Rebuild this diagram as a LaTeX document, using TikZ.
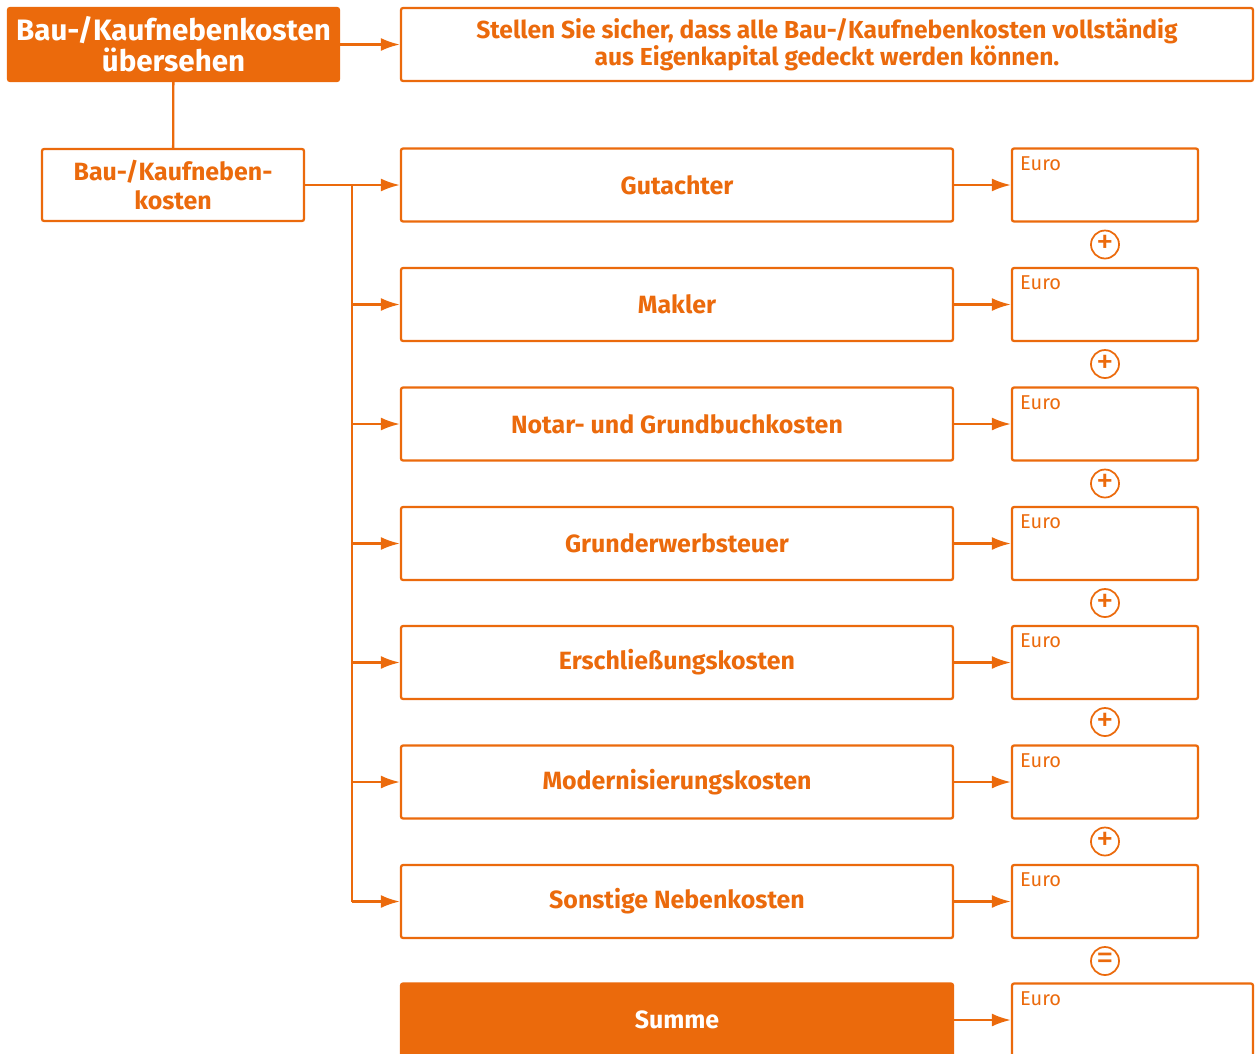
\documentclass[tikz,border=0pt]{standalone}
\usepackage{fontspec}
\setmainfont{Fira Sans}
\usepackage{tikz}
\usetikzlibrary{positioning}
\usetikzlibrary{arrows.meta}

\definecolor{kostorange}{RGB}{235,106,12}

\tikzset{
  posten/.style={rectangle, draw=kostorange, line width=1.3pt, rounded corners=1.2pt,
    minimum width=11.04cm, minimum height=1.46cm, text=kostorange, align=center,
    font=\bfseries\fontsize{14.2}{16}\selectfont},
  titel/.style={posten, fill=kostorange, text=white, minimum width=6.62cm,
    font=\bfseries\fontsize{16.8}{17.5}\selectfont},
  euro/.style={rectangle, draw=kostorange, line width=1.3pt, rounded corners=1.2pt,
    minimum width=3.72cm, minimum height=1.46cm,
    label={[text=kostorange, font=\fontsize{11.4}{13}\selectfont, anchor=north west,
      inner sep=0pt, xshift=0.18cm, yshift=-0.17cm]north west:Euro}},
  rechen/.style={circle, draw=kostorange, line width=1pt, minimum size=0.56cm,
    inner sep=0pt, text=kostorange, font=\fontsize{20}{20}\selectfont},
  linie/.style={draw=kostorange, line width=1.3pt},
  pfeil/.style={linie, -{Latex[length=0.38cm,width=0.26cm]}},
  rueck/.style={linie, {Latex[length=0.38cm,width=0.26cm]}-}
}

\begin{document}
\begin{tikzpicture}
\useasboundingbox (0,0) rectangle (25.1,-21.06);

% Kopf
\node[titel]    (titel)    at ( 3.47, -0.89 )  {Bau-/Kaufnebenkosten\\übersehen};
\node[posten]   (hinweis)  at ( 16.54, -0.89 ) [minimum width=17.04cm, font=\bfseries\fontsize{14}{15.5}\selectfont]
    {Stellen Sie sicher, dass alle Bau-/Kaufnebenkosten vollständig\\aus Eigenkapital gedeckt werden können.}
    edge [rueck] (titel);
\node[posten]   (kosten)   at ( 3.46, -3.70 )  [minimum width=5.24cm, minimum height=1.44cm]
    {Bau-/Kaufneben-\\kosten}
    edge [linie] (titel);

\coordinate (trunk)    at ( 7.04, -3.70 );
\coordinate (trunkend) at ( 7.04, -18.03 );
\draw[linie] (kosten) -- (trunk) -- (trunkend);

% Euro-Felder
\node[euro] (e1) at ( 22.10, -3.70 )  {};
\node[euro] (e2) at ( 22.10, -6.09 )  {};
\node[euro] (e3) at ( 22.10, -8.48 )  {};
\node[euro] (e4) at ( 22.10, -10.87 ) {};
\node[euro] (e5) at ( 22.10, -13.25 ) {};
\node[euro] (e6) at ( 22.10, -15.64 ) {};
\node[euro] (e7) at ( 22.10, -18.03 ) {};
\node[euro] (e8) at ( 22.65, -20.40 ) [minimum width=4.82cm] {};

% Posten
\node[posten] (gutachter) at ( 13.54, -3.70 )  {Gutachter}
    edge [pfeil] (e1)
    edge [rueck] (gutachter -| trunk);
\node[posten] (makler)    at ( 13.54, -6.09 )  {Makler}
    edge [pfeil] (e2)
    edge [rueck] (makler -| trunk);
\node[posten] (notar)     at ( 13.54, -8.48 )  {Notar- und Grundbuchkosten}
    edge [pfeil] (e3)
    edge [rueck] (notar -| trunk);
\node[posten] (steuer)    at ( 13.54, -10.87 ) {Grunderwerbsteuer}
    edge [pfeil] (e4)
    edge [rueck] (steuer -| trunk);
\node[posten] (erschl)    at ( 13.54, -13.25 ) {Erschließungskosten}
    edge [pfeil] (e5)
    edge [rueck] (erschl -| trunk);
\node[posten] (modern)    at ( 13.54, -15.64 ) {Modernisierungskosten}
    edge [pfeil] (e6)
    edge [rueck] (modern -| trunk);
\node[posten] (sonstig)   at ( 13.54, -18.03 ) {Sonstige Nebenkosten}
    edge [pfeil] (e7)
    edge [rueck] (sonstig -| trunk);
\node[posten] (summe)     at ( 13.54, -20.40 ) [fill=kostorange, text=white] {Summe}
    edge [pfeil] (e8);

% Rechenzeichen
\node[rechen] (p1) at ( 22.10, -4.89 )  {+};
\node[rechen] (p2) at ( 22.10, -7.28 )  {+};
\node[rechen] (p3) at ( 22.10, -9.67 )  {+};
\node[rechen] (p4) at ( 22.10, -12.06 ) {+};
\node[rechen] (p5) at ( 22.10, -14.44 ) {+};
\node[rechen] (p6) at ( 22.10, -16.83 ) {+};
\node[rechen] (gl) at ( 22.10, -19.22 ) {=};
\end{tikzpicture}
\end{document}
